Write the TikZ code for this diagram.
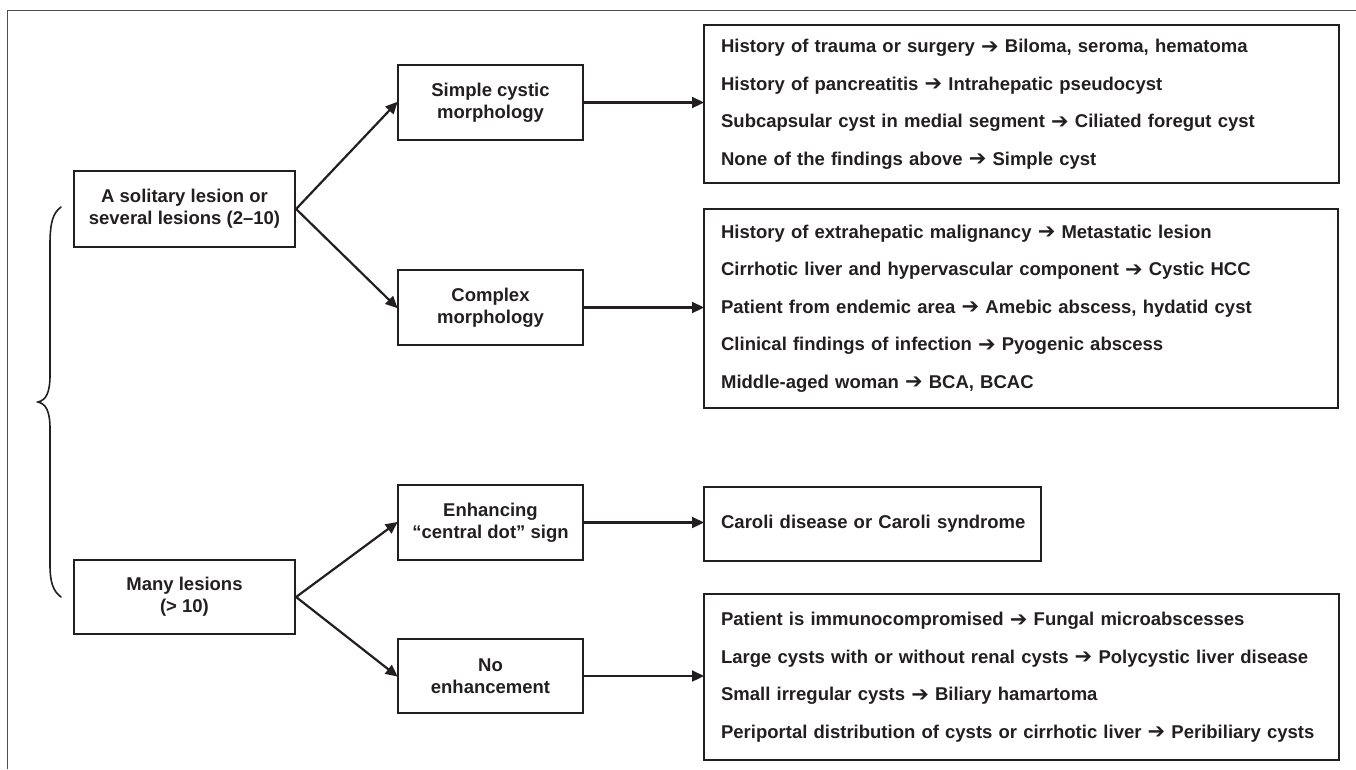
\documentclass[tikz,border=0pt]{standalone}
\usepackage{fontspec}
\setmainfont{Liberation Sans}
\newfontfamily\symfont{DejaVu Sans}
\usetikzlibrary{arrows.meta}
\newcommand\ar{ {\symfont\fontsize{21}{21}\selectfont\raisebox{-0.5pt}{➔}} }
\definecolor{ink}{HTML}{231F20}
\tikzset{
  box/.style={draw=ink, line width=2.2pt, text=ink, align=center, inner sep=0pt,
    font=\bfseries\fontsize{18.5}{22}\selectfont},
  listbox/.style={draw=ink, line width=2.2pt, text=ink, anchor=north west, inner xsep=17pt, inner ysep=0pt,
    align=left, font=\bfseries\fontsize{18.5}{37.5}\selectfont},
  conn/.style={draw=ink, line width=2.2pt, -{Triangle[length=12pt,width=11pt]}, shorten >=-1pt},
  frame/.style={draw=ink!80, line width=1pt},
  bracestyle/.style={draw=ink, line width=1.6pt, line cap=round}
}
\begin{document}
\begin{tikzpicture}[x=1pt,y=-1pt]
\useasboundingbox (0,0) rectangle (1356,769);
\draw[frame] (7,769) -- (7,10) -- (1356,10);

\node[box, minimum width=221pt, minimum height=76pt] (a) at (184.5,209) {A solitary lesion or\\several lesions (2--10)};
\node[box, minimum width=221pt, minimum height=74pt] (m) at (184.5,597) {Many lesions\\(> 10)};

\node[box, minimum width=185pt, minimum height=75pt] (s) at (490.5,102.5) {Simple cystic\\morphology};
\node[box, minimum width=185pt, minimum height=75pt] (c) at (490.5,307.5) {Complex\\morphology};
\node[box, minimum width=185pt, minimum height=75pt] (e) at (490.5,522.5) {Enhancing\\``central dot'' sign};
\node[box, minimum width=185pt, minimum height=74pt] (n) at (490.5,676) {No\\enhancement};

\node[listbox, text width=601pt, minimum height=158pt] (o1) at (703,24) {%
History of trauma or surgery\ar Biloma, seroma, hematoma\\
History of pancreatitis\ar Intrahepatic pseudocyst\\
Subcapsular cyst in medial segment\ar Ciliated foregut cyst\\
None of the findings above\ar Simple cyst};
\node[listbox, text width=600pt, minimum height=199pt] (o2) at (703,208) {%
History of extrahepatic malignancy\ar Metastatic lesion\\
Cirrhotic liver and hypervascular component\ar Cystic HCC\\
Patient from endemic area\ar Amebic abscess, hydatid cyst\\
Clinical findings of infection\ar Pyogenic abscess\\
Middle-aged woman\ar BCA, BCAC};
\node[listbox, text width=303pt, minimum height=74pt] (o3) at (703,486) {\mbox{Caroli disease or Caroli syndrome}};
\node[listbox, text width=601pt, minimum height=166pt] (o4) at (703,593) {%
Patient is immunocompromised\ar Fungal microabscesses\\
Large cysts with or without renal cysts\ar Polycystic liver disease\\
Small irregular cysts\ar Biliary hamartoma\\
Periportal distribution of cysts or cirrhotic liver\ar Peribiliary cysts};

\draw[conn] (a.east) -- (s.west);
\draw[conn] (a.east) -- (c.west);
\draw[conn] (m.east) -- (e.west);
\draw[conn] (m.east) -- (n.west);
\draw[conn] (s.east) -- (s.east -| o1.west);
\draw[conn] (c.east) -- (c.east -| o2.west);
\draw[conn] (e.east) -- (e.east -| o3.west);
\draw[conn] (n.east) -- (n.east -| o4.west);

\draw[bracestyle] (61,207) .. controls (53,213) and (50,222) .. (50,245) -- (50,375)
  .. controls (50,393) and (46,400) .. (38,402)
  .. controls (46,404) and (50,411) .. (50,429) -- (50,565)
  .. controls (50,582) and (53,591) .. (61,597);
\end{tikzpicture}
\end{document}
